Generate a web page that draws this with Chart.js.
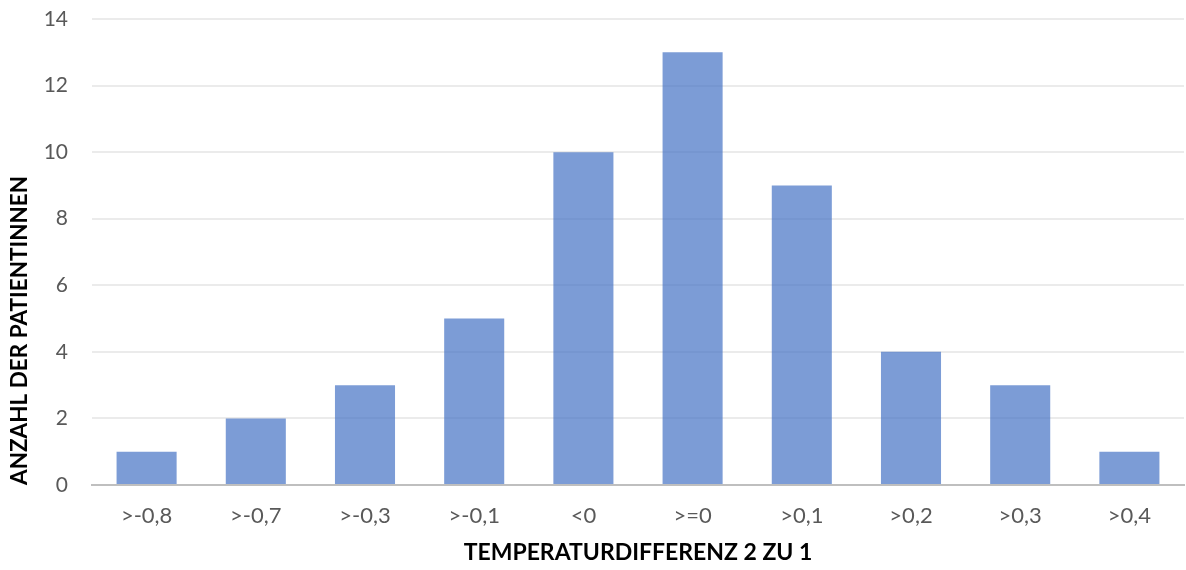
<!DOCTYPE html>
<html>
<head>
<meta charset="utf-8">
<script src="https://cdn.jsdelivr.net/npm/chart.js@4"></script>
<style>
  html, body { margin: 0; padding: 0; background: #ffffff; }
  #wrap { width: 1186px; height: 570px; }
</style>
</head>
<body>
<div id="wrap"><canvas id="c" width="1186" height="570"></canvas></div>
<script>
// Temperature difference classes (2 vs 1) and number of patients per class
const categories = [">-0,8", ">-0,7", ">-0,3", ">-0,1", "<0", ">=0", ">0,1", ">0,2", ">0,3", ">0,4"];
const patientCounts = [1, 2, 3, 5, 10, 13, 9, 4, 3, 1];
const yTicks = [0, 2, 4, 6, 8, 10, 12, 14];

const xTitle = "TEMPERATURDIFFERENZ 2 ZU 1";
const yTitle = "ANZAHL DER PATIENTINNEN";

const FONT = "Lato, 'Open Sans', sans-serif";

new Chart(document.getElementById('c'), {
  type: 'bar',
  data: {
    labels: categories,
    datasets: [{
      data: patientCounts,
      backgroundColor: 'rgba(68,114,196,0.7)',
      borderWidth: 0,
      categoryPercentage: 1,
      barPercentage: 0.55
    }]
  },
  options: {
    responsive: false,
    animation: false,
    layout: { padding: { top: 19, right: 2, left: 0, bottom: 0 } },
    plugins: { legend: { display: false }, tooltip: { enabled: false } },
    scales: {
      x: {
        grid: { display: false, drawTicks: false },
        border: { color: '#bfbfbf', width: 2 },
        ticks: { color: '#595959', font: { family: FONT, size: 22 }, padding: 18 },
        title: {
          display: true, text: xTitle, color: '#000000',
          font: { family: FONT, size: 23, weight: 'bold' },
          padding: { top: 10, bottom: 4 }
        },
        afterFit: s => { s.height = 85; s.paddingLeft = 0; s.paddingRight = 0; }
      },
      y: {
        min: 0, max: 14,
        afterBuildTicks: s => { s.ticks = yTicks.map(v => ({ value: v })); },
        grid: { color: '#ebebeb', lineWidth: 2, drawTicks: false },
        border: { display: false },
        ticks: { color: '#595959', font: { family: FONT, size: 21 }, padding: 24 },
        title: {
          display: true, text: yTitle, color: '#000000', align: 'start',
          font: { family: FONT, size: 22.5, weight: 'bold' },
          padding: { top: 6, bottom: 4 }
        },
        afterFit: s => { s.width = 92; s.paddingTop = 0; s.paddingBottom = 0; }
      }
    }
  }
});
</script>
</body>
</html>
